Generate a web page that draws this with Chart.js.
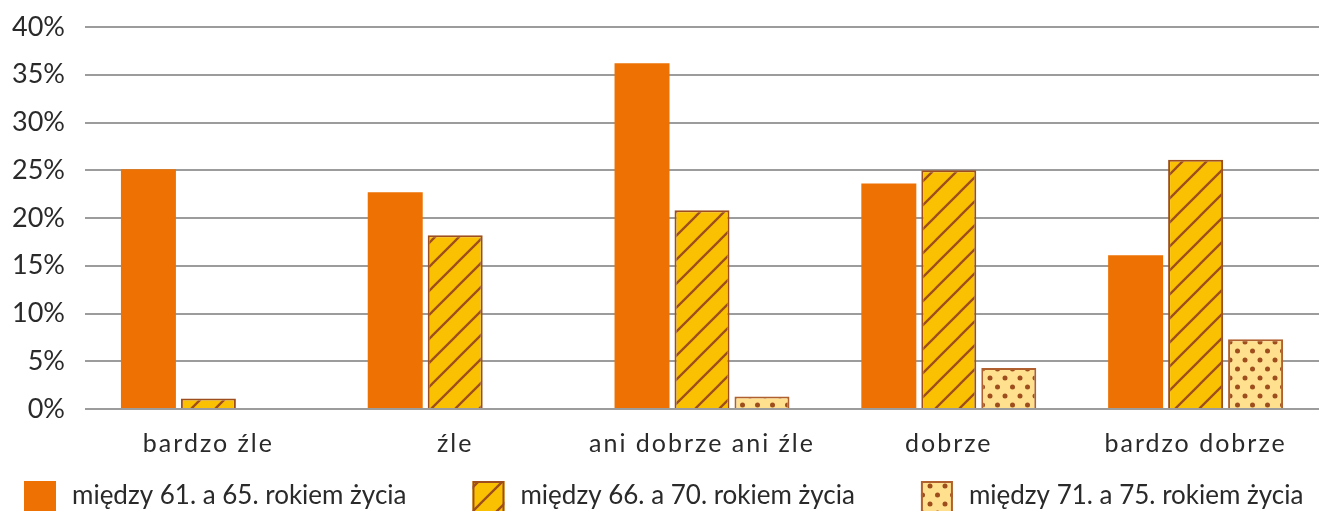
<!DOCTYPE html>
<html>
<head>
<meta charset="utf-8">
<script src="https://cdn.jsdelivr.net/npm/chart.js@4"></script>
<style>
  html, body { margin: 0; padding: 0; background: #fff; }
  #wrap { width: 1319px; height: 511px; position: relative; }
</style>
</head>
<body>
<div id="wrap"><canvas id="c"></canvas></div>
<script>
const categories = ['bardzo źle', 'źle', 'ani dobrze ani źle', 'dobrze', 'bardzo dobrze'];
const seriesNames = ['między 61. a 65. rokiem życia', 'między 66. a 70. rokiem życia', 'między 71. a 75. rokiem życia'];
const values61_65 = [25.1, 22.7, 36.2, 23.6, 16.1];
const values66_70 = [1.1, 18.2, 20.8, 25.0, 26.1];
const values71_75 = [null, null, 1.3, 4.3, 7.3];
const yTicks = [0, 5, 10, 15, 20, 25, 30, 35, 40];

const ORANGE = '#EE7203';
const BROWN = '#9E4E1C';
const FONT = 'Lato, "Open Sans", sans-serif';
const TEXT = '#2A2A2A';

function hatchPattern() {
  const s = 24;
  const cv = document.createElement('canvas');
  cv.width = s; cv.height = s;
  const g = cv.getContext('2d');
  g.fillStyle = '#FAC103';
  g.fillRect(0, 0, s, s);
  g.strokeStyle = BROWN;
  g.lineWidth = 2.3;
  g.beginPath();
  g.moveTo(-2, s + 2); g.lineTo(s + 2, -2);
  g.moveTo(-2, 2); g.lineTo(2, -2);
  g.moveTo(s - 2, s + 2); g.lineTo(s + 2, s - 2);
  g.stroke();
  return g.createPattern(cv, 'repeat');
}
function dotPattern() {
  const w = 15, h = 18;
  const cv = document.createElement('canvas');
  cv.width = w; cv.height = h;
  const g = cv.getContext('2d');
  g.fillStyle = '#FFE08F';
  g.fillRect(0, 0, w, h);
  g.fillStyle = BROWN;
  const dots = [[0,0],[w,0],[0,h],[w,h],[w/2,h/2]];
  dots.forEach(([x,y]) => { g.beginPath(); g.arc(x, y, 2.5, 0, Math.PI*2); g.fill(); });
  return g.createPattern(cv, 'repeat');
}

const ctx = document.getElementById('c').getContext('2d');
const hatch = hatchPattern();
const dots = dotPattern();

const legendPlugin = {
  id: 'customLegend',
  afterDraw(chart) {
    const c = chart.ctx;
    const box = 32, gapText = 16, gapItem = 66;
    c.save();
    c.font = '26px ' + FONT;
    c.textBaseline = 'middle';
    c.textAlign = 'left';
    const items = chart.data.datasets.map(ds => ({
      text: ds.label, fill: ds.backgroundColor, stroke: ds.borderColor, lw: ds.borderWidth,
      w: box + gapText + c.measureText(ds.label).width
    }));
    const total = items.reduce((a, it) => a + it.w, 0) + gapItem * (items.length - 1);
    let x = Math.round((chart.width - total) / 2) + 4;
    const top = 481, cy = 496;
    items.forEach(it => {
      c.fillStyle = it.fill;
      c.fillRect(x, top, box, 32);
      if (it.lw) {
        c.strokeStyle = it.stroke; c.lineWidth = it.lw;
        c.strokeRect(x + 1, top + 1, box - 2, 32);
      }
      c.fillStyle = TEXT;
      c.fillText(it.text, x + box + gapText, cy);
      x += it.w + gapItem;
    });
    c.restore();
  }
};

const spacingPlugin = {
  id: 'xLetterSpacing',
  beforeDraw(chart) {
    const sx = chart.scales.x;
    if (sx && !sx._lsPatched) {
      const orig = sx.drawLabels;
      sx.drawLabels = function (area) {
        const c = this.ctx;
        c.save();
        c.letterSpacing = '2px';
        orig.call(this, area);
        c.restore();
      };
      sx._lsPatched = true;
    }
  }
};

new Chart(ctx, {
  type: 'bar',
  data: {
    labels: categories,
    datasets: [
      { label: seriesNames[0], data: values61_65, backgroundColor: ORANGE, borderWidth: 0 },
      { label: seriesNames[1], data: values66_70, backgroundColor: hatch, borderColor: BROWN, borderWidth: 2 },
      { label: seriesNames[2], data: values71_75, backgroundColor: dots, borderColor: '#B0602E', borderWidth: 2 }
    ]
  },
  plugins: [legendPlugin, spacingPlugin],
  options: {
    responsive: true,
    maintainAspectRatio: false,
    animation: false,
    devicePixelRatio: 1,
    layout: { padding: { top: 27, right: 0, bottom: 48, left: 0 } },
    datasets: { bar: { categoryPercentage: 0.729, barPercentage: 0.917 } },
    plugins: { legend: { display: false }, tooltip: { enabled: false } },
    scales: {
      x: {
        grid: { display: false },
        border: { display: false },
        ticks: { color: TEXT, font: { family: FONT, size: 25 }, padding: 12, maxRotation: 0, autoSkip: false },
        afterFit(s) { s.height = 54; s.paddingLeft = 0; s.paddingRight = 0; }
      },
      y: {
        min: 0, max: 40,
        afterBuildTicks(s) { s.ticks = yTicks.map(v => ({ value: v })); },
        grid: { color: '#9C9C9C', lineWidth: 2, drawTicks: false },
        border: { display: false },
        ticks: { color: TEXT, font: { family: FONT, size: 27 }, padding: 20, callback: v => v + '%' },
        afterFit(s) { s.width = 85; s.paddingTop = 0; s.paddingBottom = 0; }
      }
    }
  }
});
</script>
</body>
</html>
